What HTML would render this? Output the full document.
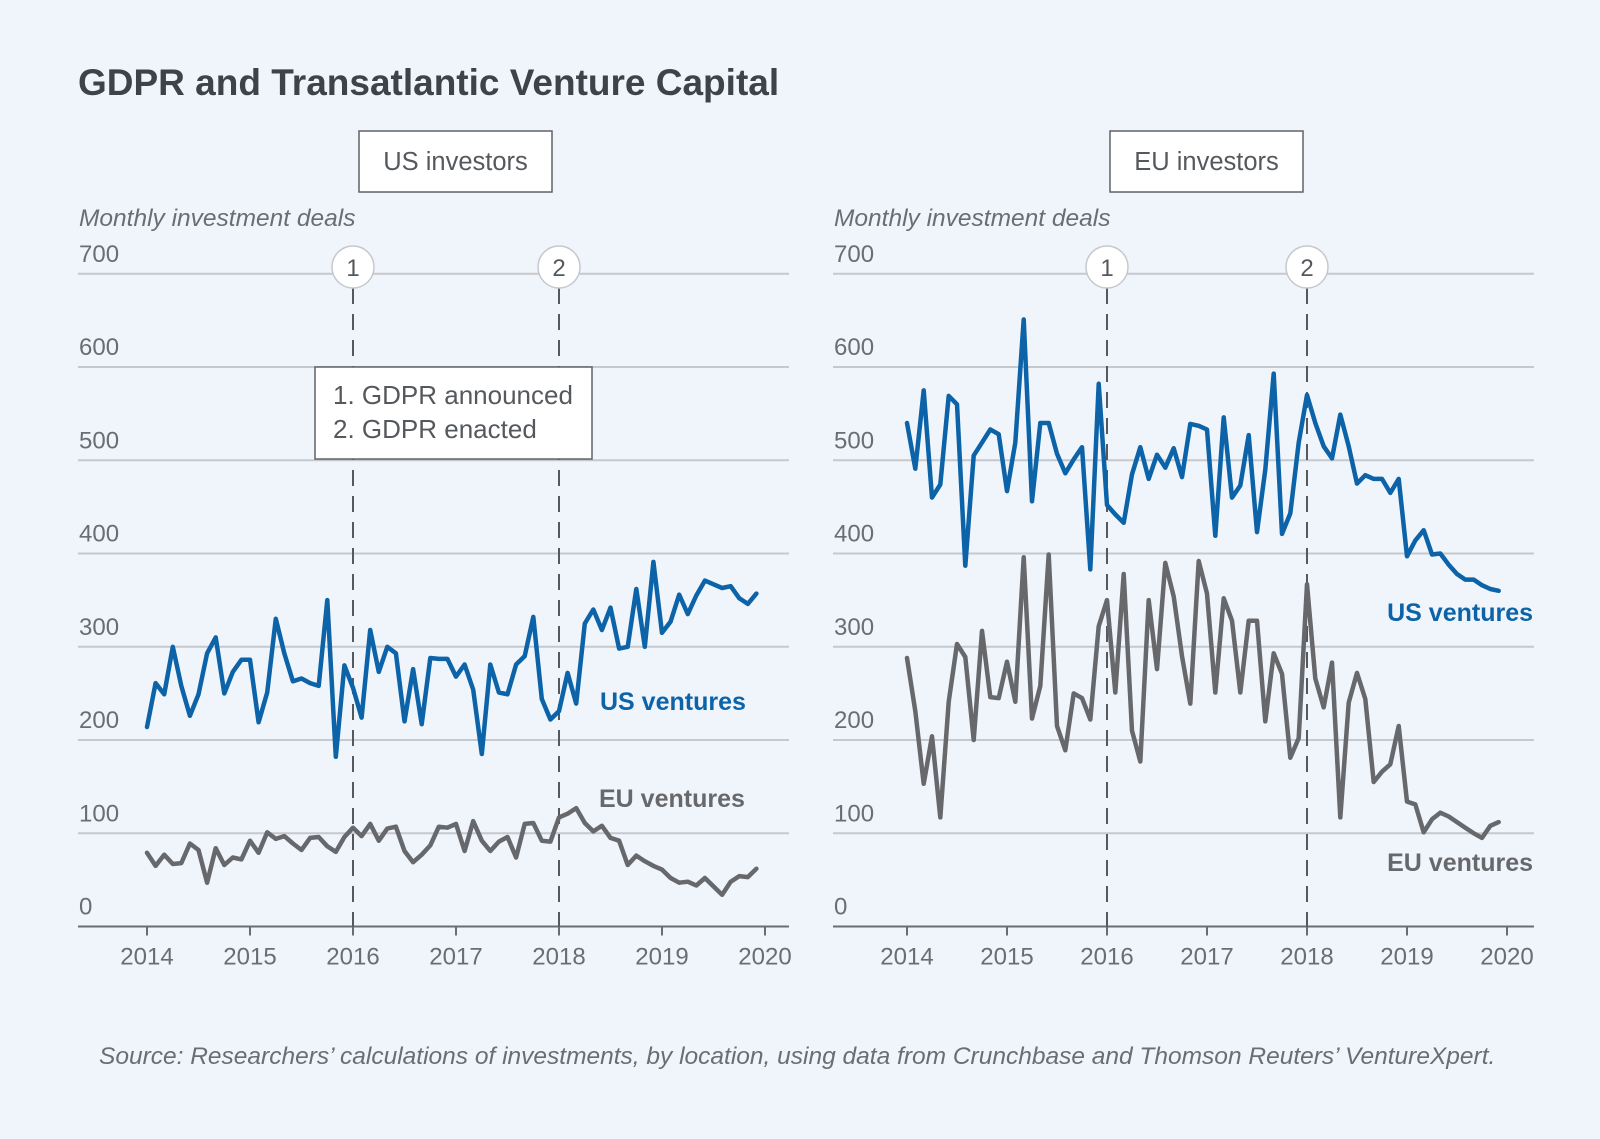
<!DOCTYPE html>
<html><head><meta charset="utf-8">
<style>
body{margin:0;background:#f0f5fb;}
svg{display:block;font-family:"Liberation Sans","DejaVu Sans",sans-serif;}
</style></head>
<body>
<svg id="c" width="1600" height="1139" viewBox="0 0 1600 1139">
<rect x="0" y="0" width="1600" height="1139" fill="#f0f5fb"/>
<text x="78" y="95" font-size="37" font-weight="bold" fill="#3f4347">GDPR and Transatlantic Venture Capital</text>
<text x="99" y="1064" font-size="24.5" font-style="italic" fill="#6a6d71">Source: Researchers’ calculations of investments, by location, using data from Crunchbase and Thomson Reuters’ VentureXpert.</text>
</svg>
<script>
const years=[2014,2015,2016,2017,2018,2019,2020];
const yTicks=[0,100,200,300,400,500,600,700];
const events=[{label:"1",t:2016},{label:"2",t:2018}];
const usInvUS=[214,261,249,300,258,226,249,293,310,250,273,286,286,219,251,330,293,263,266,261,258,350,182,280,256,224,318,273,300,293,220,276,217,288,287,287,268,281,254,185,281,251,249,281,290,332,244,222,231,272,239,325,340,318,342,298,300,362,300,391,315,327,356,335,355,371,367,363,365,352,346,357];
const usInvEU=[79,65,77,67,68,89,82,47,84,66,74,72,92,79,101,94,97,89,82,95,96,86,80,96,106,97,110,92,105,107,81,69,77,87,107,106,110,81,113,92,81,91,96,74,110,111,92,91,117,121,127,111,102,108,95,92,66,76,70,65,61,52,47,48,44,52,43,34,48,54,53,62];
const euInvUS=[540,491,575,460,474,569,560,387,505,519,533,528,467,519,651,456,540,540,507,486,501,514,383,582,452,442,433,485,514,480,506,492,513,482,539,537,533,419,546,460,473,527,423,490,593,421,443,519,570,540,515,502,549,515,475,484,480,480,465,480,397,414,425,399,400,388,378,372,372,366,362,360];
const euInvEU=[288,231,153,204,117,241,303,289,200,317,246,245,284,241,396,223,258,399,215,189,250,245,222,322,350,251,378,210,177,350,276,390,354,290,239,392,357,251,352,328,251,328,328,220,293,271,181,202,367,266,235,283,117,240,272,244,155,166,174,215,134,131,101,115,122,118,112,106,100,95,108,112];

const NS="http://www.w3.org/2000/svg";
const svg=document.getElementById('c');
function mk(tag,attrs,parent){const e=document.createElementNS(NS,tag);for(const k in attrs)e.setAttribute(k,attrs[k]);(parent||svg).appendChild(e);return e;}

const panels=[
 {key:"us-investors",title:"US investors",box:[359,131,193,61],gx0:78,gx1:789,x2014:147,x2020:765,ylab:79,us:usInvUS,eu:usInvEU,
  usLab:{x:600,y:710,anchor:"start"},euLab:{x:599,y:807,anchor:"start"},note:true},
 {key:"eu-investors",title:"EU investors",box:[1110,131,193,61],gx0:833,gx1:1534,x2014:907,x2020:1507,ylab:834,us:euInvUS,eu:euInvEU,
  usLab:{x:1533,y:621,anchor:"end"},euLab:{x:1533,y:871,anchor:"end"},note:false}
];
const y0=926.5,y700=273.8;
function ys(v){return y0-(v/700)*(y0-y700);}

panels.forEach(p=>{
  const g=mk('g',{});
  
  
  const xs=t=>p.x2014+(t-2014)*(p.x2020-p.x2014)/6;
  const hb=mk('rect',{x:p.box[0],y:p.box[1],width:p.box[2],height:p.box[3],fill:'#fff',stroke:'#5f6368','stroke-width':1.5},g);
  
  
  const ht=mk('text',{x:p.box[0]+p.box[2]/2,y:p.box[1]+39,'text-anchor':'middle','font-size':25.5,fill:'#55595d'},g);
  ht.textContent=p.title;
  
  
  const yt=mk('text',{x:p.ylab,y:226,'font-size':24.5,'font-style':'italic',fill:'#6a6d71'},g);
  yt.textContent="Monthly investment deals";
  
  
  yTicks.forEach(v=>{
    if(v>0){const l=mk('line',{x1:p.gx0,x2:p.gx1,y1:ys(v),y2:ys(v),stroke:'#c5c9ce','stroke-width':2},g);
      
      }
    const t=mk('text',{x:p.ylab,y:ys(v)-12,'font-size':24,fill:'#6a6d71'},g);
    t.textContent=v;
    
    
  });
  const ax=mk('line',{x1:p.gx0,x2:p.gx1,y1:y0,y2:y0,stroke:'#6a6d71','stroke-width':2},g);
  
  
  years.forEach(yr=>{
    const x=xs(yr);
    const tk=mk('line',{x1:x,x2:x,y1:y0,y2:y0+9,stroke:'#6a6d71','stroke-width':2},g);
    
    
    const t=mk('text',{x:x,y:y0+38,'text-anchor':'middle','font-size':24,fill:'#6a6d71'},g);
    t.textContent=yr;
    
    
  });
  events.forEach(ev=>{
    const x=xs(ev.t);
    const d=mk('line',{x1:x,x2:x,y1:288,y2:y0,stroke:'#55595d','stroke-width':2,'stroke-dasharray':'16,10'},g);
    
    
    const c=mk('circle',{cx:x,cy:267,r:21,fill:'#fff',stroke:'#c5c9ce','stroke-width':1.5},g);
    
    
    const t=mk('text',{x:x,y:276,'text-anchor':'middle','font-size':24,fill:'#55595d'},g);
    t.textContent=ev.label;
    
    
  });
  if(p.note){
    const nb=mk('rect',{x:315,y:367,width:277,height:92,fill:'#fff',stroke:'#5f6368','stroke-width':1.5},g);
    
    
    const n1=mk('text',{x:333,y:404,'font-size':26,fill:'#55595d'},g);
    n1.textContent="1.  GDPR announced";
    
    
    const n2=mk('text',{x:333,y:438,'font-size':26,fill:'#55595d'},g);
    n2.textContent="2.  GDPR enacted";
    
    
  }
  [["eu",p.eu,"#67686b"],["us",p.us,"#0d63a8"]].forEach(([k,arr,col])=>{
    const pts=arr.map((v,i)=>xs(2014+i/12).toFixed(1)+","+ys(v).toFixed(1)).join(" ");
    const pl=mk('polyline',{points:pts,fill:'none',stroke:col,'stroke-width':4.5,'stroke-linejoin':'round','stroke-linecap':'round'},g);
    
    
  });
  const ul=mk('text',{x:p.usLab.x,y:p.usLab.y,'text-anchor':p.usLab.anchor,'font-size':25,'font-weight':'bold',fill:'#0d63a8'},g);
  ul.textContent="US ventures";
  
  
  const el=mk('text',{x:p.euLab.x,y:p.euLab.y,'text-anchor':p.euLab.anchor,'font-size':25,'font-weight':'bold',fill:'#67686b'},g);
  el.textContent="EU ventures";
  
  
});
</script>
</body></html>
